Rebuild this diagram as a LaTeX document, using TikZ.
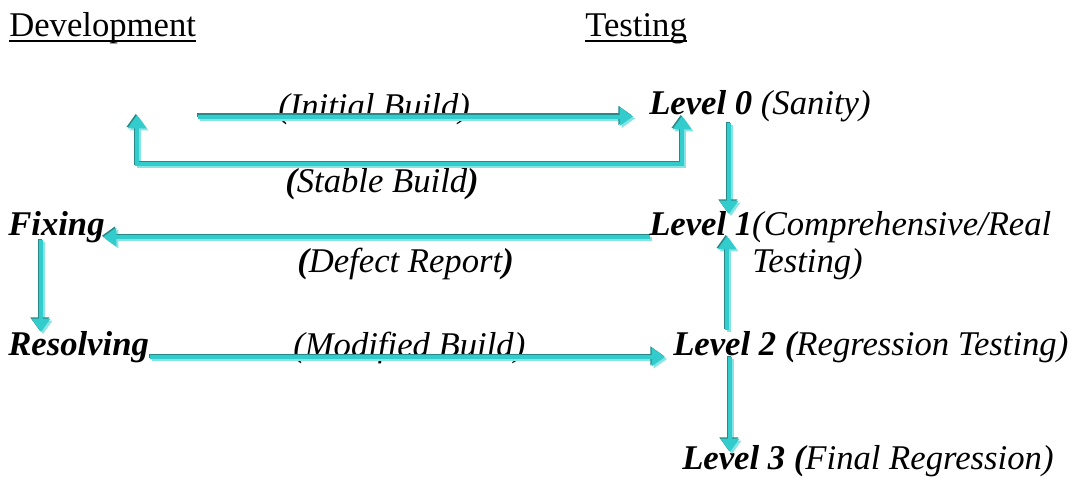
\documentclass[tikz,border=0pt]{standalone}
\usepackage{fontspec}
\setmainfont{Liberation Serif}
\usetikzlibrary{arrows.meta}
\definecolor{cmain}{HTML}{33CCCC}
\definecolor{cdark}{HTML}{2A8888}
\definecolor{clight}{HTML}{85E4E4}
\tikzset{
  myhead/.tip={Triangle[length=10pt,width=13.5pt]},
  fancy/.style={line width=3pt, draw=cmain, #1,
    preaction={draw=clight, line width=3pt, #1, transform canvas={shift={(1.5pt,-1.5pt)}}},
    preaction={draw=cdark, line width=3pt, #1, transform canvas={shift={(-0.9pt,0.9pt)}}}},
  fancy/.default={-myhead},
  txt/.style={anchor=base west, inner sep=0pt, font=\fontsize{26}{31}\selectfont},
  ul/.style={line width=1.5pt, black}
}
\begin{document}
\begin{tikzpicture}[x=0.75pt,y=-0.75pt]
\useasboundingbox (0,0) rectangle (1075,482);
% headers
\node[txt] (dev) at (9,36) {Development};
\node[txt] (test) at (585,36) {Testing};
\draw[ul] ([yshift=-3.9pt]dev.base west) -- ([yshift=-3.9pt]dev.base east);
\draw[ul] ([yshift=-3.9pt]test.base west) -- ([yshift=-3.9pt]test.base east);
% testing side
\node[txt] (lvl0) at (649,114) {\textit{\textbf{Level 0} (Sanity)}};
\node[txt] (lvl1) at (649,235) {\textit{\textbf{Level 1}(Comprehensive/Real}};
\node[txt] (lvl1b) at (752,272) {\textit{Testing)}};
\node[txt] (lvl2) at (673,355) {\textit{\textbf{Level 2 (}Regression Testing)}};
\node[txt] (lvl3) at (682,469) {\textit{\textbf{Level 3 (}Final Regression)}};
% development side
\node[txt] (fix) at (8,235) {\textit{\textbf{Fixing}}};
\node[txt] (res) at (8,355) {\textit{\textbf{Resolving}}};
% connector labels
\node[txt] (linit) at (278,117) {\textit{(Initial Build)}};
\node[txt] (lstable) at (285,192) {\textit{\textbf{(}Stable Build\textbf{)}}};
\node[txt] (ldefect) at (297,272) {\textit{\textbf{(}Defect Report\textbf{)}}};
\node[txt] (lmod) at (293,356) {\textit{(Modified Build)}};
% connector end points
\coordinate (iA) at (198,116.5);
\coordinate (iB) at (633,116.5);
\coordinate (sL) at (137,115);
\coordinate (sB) at (137,164);
\coordinate (sR) at (682,116);
\coordinate (d01a) at (729,123);
\coordinate (d01b) at (729,214);
\coordinate (dfA) at (650,237);
\coordinate (dfB) at (103,237);
\coordinate (frA) at (41,240);
\coordinate (frB) at (41,332);
\coordinate (mA) at (150,357);
\coordinate (mB) at (665,357);
\coordinate (u21a) at (727,330);
\coordinate (u21b) at (727,236);
\coordinate (d23a) at (730,357);
\coordinate (d23b) at (730,452);
% connectors
\draw[fancy] (iA) -- (iB);
\draw[fancy={myhead-myhead}] (sL) -- (sB) -- (sB -| sR) -- (sR);
\draw[fancy] (d01a) -- (d01b);
\draw[fancy] (dfA) -- (dfB);
\draw[fancy] (frA) -- (frB);
\draw[fancy] (mA) -- (mB);
\draw[fancy] (u21a) -- (u21b);
\draw[fancy] (d23a) -- (d23b);
\end{tikzpicture}
\end{document}
